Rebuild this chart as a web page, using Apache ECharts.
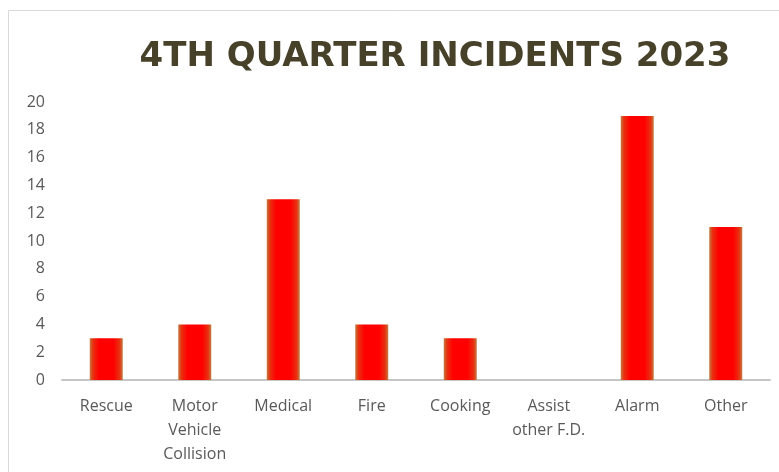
<!DOCTYPE html>
<html><head><meta charset="utf-8">
<script src="https://cdn.jsdelivr.net/npm/echarts@6/dist/echarts.min.js"></script>
<style>html,body{margin:0;padding:0;background:#fff}#c{width:779px;height:472px}</style>
</head><body><div id="c"></div>
<script>
const categories = ["Rescue", "Motor\nVehicle\nCollision", "Medical", "Fire", "Cooking", "Assist\nother F.D.", "Alarm", "Other"];
const values = [3, 4, 13, 4, 3, 0, 19, 11];
const yTicks = {min: 0, max: 20, interval: 2};
const titleText = "4TH QUARTER INCIDENTS 2023";

const chart = echarts.init(document.getElementById('c'), null, {renderer: 'canvas'});
const barColor = new echarts.graphic.LinearGradient(0, 0, 1, 0, [
  {offset: 0, color: '#c47a40'},
  {offset: 0.1, color: '#e8300f'},
  {offset: 0.28, color: '#ff0000'},
  {offset: 0.72, color: '#ff0000'},
  {offset: 0.9, color: '#e8300f'},
  {offset: 1, color: '#c47a40'}
]);
chart.setOption({
  animation: false,
  graphic: [{
    type: 'rect', shape: {x: 8.5, y: 10.5, width: 900, height: 600},
    style: {fill: 'none', stroke: '#d9d9d9', lineWidth: 1}, silent: true
  }],
  title: {
    text: titleText, left: 430, top: 35, textAlign: 'center',
    textStyle: {fontFamily: 'DejaVu Sans', fontWeight: 'bold', fontSize: 34, color: '#47412a'}
  },
  grid: {left: 62, right: 9, top: 102, bottom: 92, containLabel: false},
  xAxis: {
    type: 'category', data: categories,
    axisLine: {lineStyle: {color: '#c6c6c6', width: 2}},
    axisTick: {show: false},
    axisLabel: {color: '#595959', fontFamily: 'Open Sans', fontSize: 16, lineHeight: 24, margin: 14, interval: 0}
  },
  yAxis: {
    type: 'value', min: yTicks.min, max: yTicks.max, interval: yTicks.interval,
    axisLine: {show: false}, axisTick: {show: false}, splitLine: {show: false},
    axisLabel: {color: '#595959', fontFamily: 'Open Sans', fontSize: 16, margin: 17}
  },
  series: [{
    type: 'bar', data: values, barWidth: 33,
    itemStyle: {color: barColor}
  }]
});
</script></body></html>
